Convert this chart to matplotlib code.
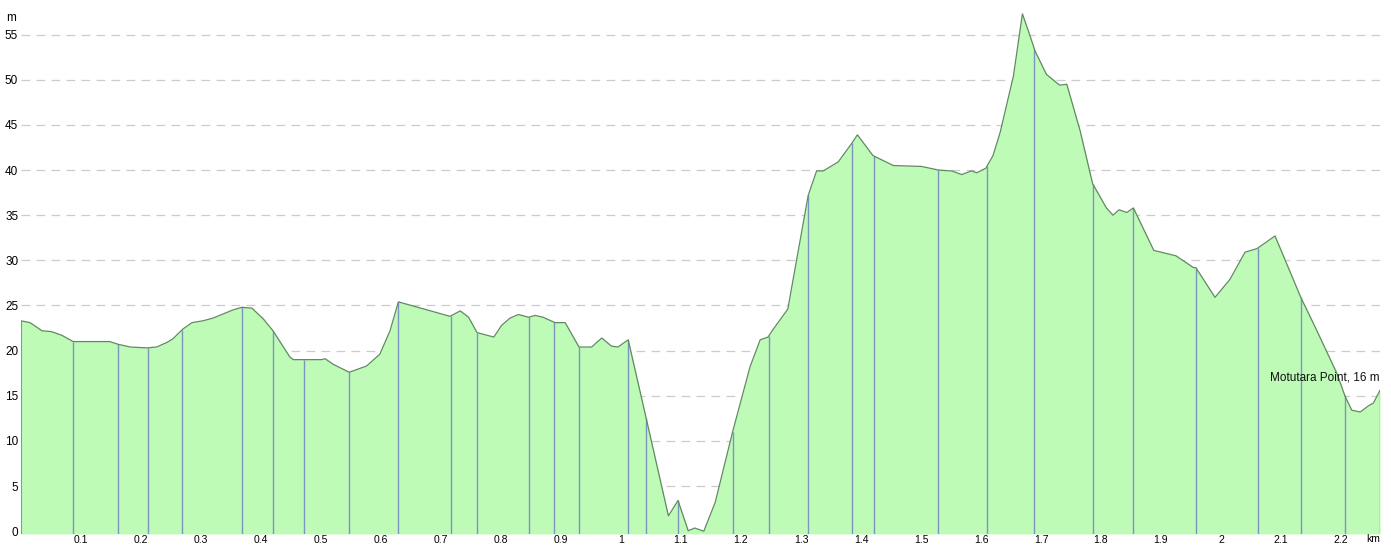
import numpy as np
import matplotlib.pyplot as plt

# Höhenprofil (Distanz in km, Höhe in m)
dist_km = [0.000, 0.015, 0.035, 0.051, 0.068, 0.087, 0.148, 0.162, 0.182, 0.210,
           0.226, 0.243, 0.253, 0.270, 0.285, 0.303, 0.320, 0.353, 0.368, 0.385,
           0.404, 0.420, 0.448, 0.454, 0.501, 0.507, 0.520, 0.547, 0.576, 0.598,
           0.615, 0.629, 0.715, 0.732, 0.746, 0.760, 0.788, 0.801, 0.815, 0.829,
           0.846, 0.857, 0.870, 0.890, 0.907, 0.930, 0.951, 0.968, 0.984, 0.995,
           1.012, 1.042, 1.079, 1.095, 1.112, 1.123, 1.138, 1.157, 1.186, 1.215,
           1.232, 1.245, 1.253, 1.278, 1.312, 1.326, 1.337, 1.362, 1.384, 1.394,
           1.420, 1.454, 1.501, 1.529, 1.551, 1.568, 1.584, 1.593, 1.608, 1.620,
           1.632, 1.654, 1.669, 1.680, 1.690, 1.709, 1.731, 1.743, 1.765, 1.786,
           1.809, 1.820, 1.830, 1.843, 1.854, 1.888, 1.925, 1.954, 1.958, 1.990,
           2.015, 2.040, 2.060, 2.090, 2.133, 2.157, 2.193, 2.207, 2.218, 2.232,
           2.246, 2.254, 2.265]
elev_m = [23.3, 23.1, 22.2, 22.1, 21.7, 21.0, 21.0, 20.7, 20.4, 20.3,
          20.4, 20.9, 21.3, 22.4, 23.1, 23.3, 23.6, 24.5, 24.8, 24.7,
          23.5, 22.2, 19.3, 19.0, 19.0, 19.1, 18.5, 17.6, 18.3, 19.6,
          22.2, 25.4, 23.8, 24.4, 23.7, 22.0, 21.5, 22.8, 23.6, 24.0,
          23.7, 23.9, 23.7, 23.1, 23.1, 20.4, 20.4, 21.4, 20.5, 20.4,
          21.2, 12.5, 1.7, 3.4, 0.05, 0.35, 0.0, 3.2, 11.0, 18.2,
          21.2, 21.5, 22.3, 24.6, 37.2, 39.9, 39.9, 40.9, 42.9, 43.9,
          41.6, 40.5, 40.4, 40.0, 39.9, 39.5, 39.9, 39.7, 40.2, 41.6,
          44.2, 50.4, 57.3, 55.2, 53.2, 50.6, 49.4, 49.5, 44.4, 38.5,
          35.8, 35.0, 35.6, 35.3, 35.8, 31.1, 30.5, 29.2, 29.2, 25.9,
          27.9, 30.9, 31.3, 32.7, 25.9, 22.6, 17.5, 14.9, 13.4, 13.2,
          13.9, 14.2, 15.6]

# Wegpunkte (senkrechte Linien)
waypoints_km = [0.087, 0.162, 0.212, 0.269, 0.368, 0.420, 0.472, 0.547, 0.629,
                0.716, 0.760, 0.846, 0.889, 0.930, 1.012, 1.042, 1.095, 1.186,
                1.246, 1.312, 1.385, 1.421, 1.529, 1.610, 1.689, 1.786, 1.854,
                1.958, 2.061, 2.133, 2.206, 2.265]

x_ticks = [0.1, 0.2, 0.3, 0.4, 0.5, 0.6, 0.7, 0.8, 0.9, 1.0, 1.1,
           1.2, 1.3, 1.4, 1.5, 1.6, 1.7, 1.8, 1.9, 2.0, 2.1, 2.2]
y_ticks = [0, 5, 10, 15, 20, 25, 30, 35, 40, 45, 50, 55]

plt.rcParams['font.family'] = ['Liberation Sans', 'DejaVu Sans']

fill_col = "#bdfbb6"
line_col = "#5f8a5f"
wp_col = "#7d94c2"

fig = plt.figure(figsize=(13.91, 5.49), dpi=100)
# unten etwas Platz lassen, damit die km-Beschriftung ganz sichtbar bleibt
ax = fig.add_axes([0.0151, 0.0275, 0.9770, 0.967])

ax.set_xlim(0, 2.265)
ax.set_ylim(-0.3, 58.5)

for y in y_ticks:
    ax.axhline(y, color="#cccccc", lw=0.9, ls=(0, (7, 5)), zorder=0)

ax.fill_between(dist_km, elev_m, -0.3, color=fill_col, lw=0, zorder=1)
ax.plot(dist_km, elev_m, color=line_col, lw=0.9, zorder=3)

wp_h = np.interp(waypoints_km, dist_km, elev_m)
ax.vlines(waypoints_km, -0.3, wp_h, color=wp_col, lw=1.0, zorder=2)
ax.vlines([0], -0.3, elev_m[0], color=wp_col, lw=1.5, zorder=2)

for s in ax.spines.values():
    s.set_visible(False)

ax.set_xticks(x_ticks)
ax.set_xticklabels(["{:g}".format(v) for v in x_ticks], fontsize=7.5)
ax.set_yticks(y_ticks)
ax.set_yticklabels([str(v) for v in y_ticks], fontsize=8.5)
ax.tick_params(axis="both", length=0)
ax.tick_params(axis="x", pad=0.5)
ax.tick_params(axis="y", pad=2)

ax.text(-0.0035, 0.972, "m", transform=ax.transAxes, fontsize=8.5,
        ha="right", va="center")
ax.text(1.0, 0.0, "km", transform=ax.transAxes, fontsize=7.5,
        ha="right", va="top")

ax.text(dist_km[-1], 16.4, "Motutara Point, 16 m", fontsize=8.5,
        ha="right", va="bottom", color="#111111")

fig.savefig("out.png", dpi=100)
